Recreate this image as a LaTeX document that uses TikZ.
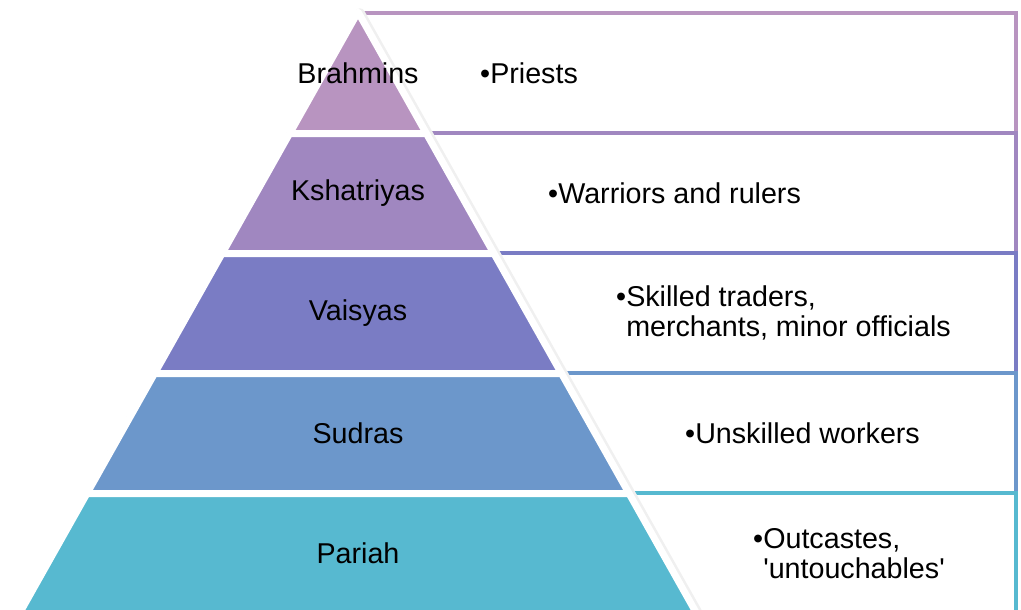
\documentclass[tikz,border=0pt]{standalone}
\usepackage{fontspec}
\setmainfont{Liberation Sans}[Ligatures=TeXOff]
\definecolor{brahmin}{HTML}{B894C0}
\definecolor{kshatriya}{HTML}{A087C0}
\definecolor{vaisya}{HTML}{7A7CC4}
\definecolor{sudra}{HTML}{6C97CB}
\definecolor{pariah}{HTML}{57B9D0}

\begin{document}
\begin{tikzpicture}[
    x=0.75pt, y=-0.75pt,
    layer/.style={draw=white, line width=5.25pt, line join=round},
    descbox/.style={line width=3pt},
    caste/.style={font=\fontsize{21.5}{24}\selectfont, anchor=center},
    duty/.style={font=\fontsize{21.5}{22.5}\selectfont, anchor=west, align=left, inner sep=0pt}
]
\useasboundingbox (0,0) rectangle (1021,610);

% Description boxes
\foreach \c [count=\i from 0] in {brahmin,kshatriya,vaisya,sudra,pariah}
  \draw[descbox, draw=\c] (358,{13+120*\i}) rectangle (1016,{133+120*\i});

% Shadow of the pyramid
\draw[black!6, line width=7.5pt, line join=round, xshift=1.5pt, yshift=-1pt]
  (358,12) -- ({358+0.563*608},620) -- ({358-0.563*608},620) -- cycle;

% Pyramid layers
\foreach \yt/\yb/\c in {12/133.5/brahmin, 133.5/253.5/kshatriya, 253.5/373.5/vaisya, 373.5/493.5/sudra, 493.5/620/pariah}
  \filldraw[layer, fill=\c]
    ({358-0.563*(\yt-12)},\yt) -- ({358+0.563*(\yt-12)},\yt)
    -- ({358+0.563*(\yb-12)},\yb) -- ({358-0.563*(\yb-12)},\yb) -- cycle;

% Caste names
\node[caste] (brahmins) at (358,73) {Brahmins};
\node[caste] (kshatriyas) at (358,193) {Kshatriyas};
\node[caste] (vaisyas) at (358,313) {Vaisyas};
\node[caste] (sudras) at (358,433) {Sudras};
\node[caste] (pariahs) at (358,553) {Pariah};

% Roles
\node[duty] (priests) at (490,73) {\llap{•}Priests};
\node[duty] (warriors) at (558,193) {\llap{•}Warriors and rulers};
\node[duty] (traders) at (626,313) {\llap{•}Skilled traders,\\merchants, minor officials};
\node[duty] (workers) at (695,433) {\llap{•}Unskilled workers};
\node[duty] (outcastes) at (763,554) {\llap{•}Outcastes,\\'untouchables'};

\end{tikzpicture}
\end{document}
